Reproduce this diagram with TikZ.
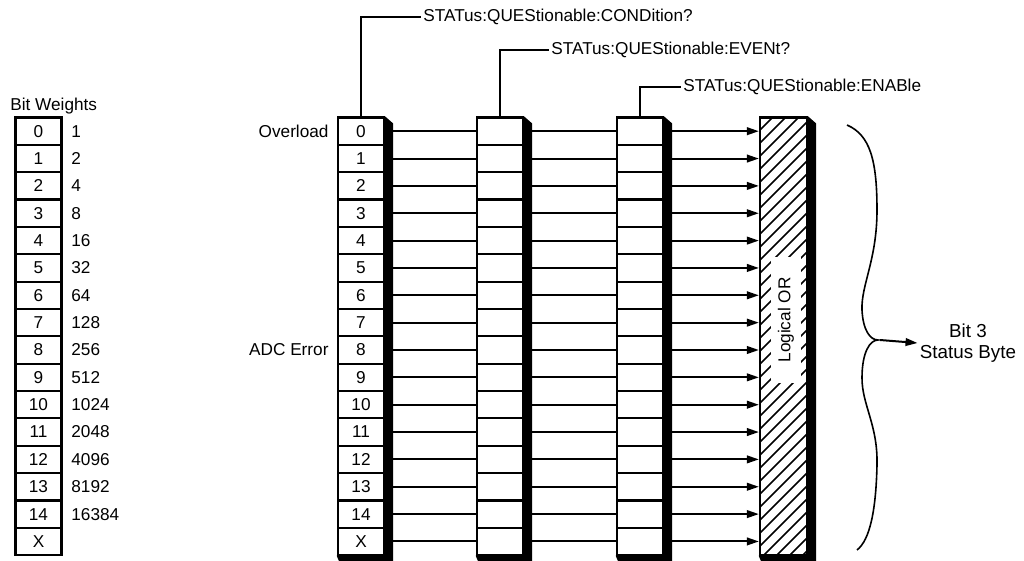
\documentclass[tikz,border=0pt]{standalone}
\usepackage{fontspec}
\setmainfont{Liberation Sans}
\usetikzlibrary{arrows.meta, positioning, backgrounds}

\begin{document}
\begin{tikzpicture}[
    x=0.5pt, y=-0.5pt,
    font=\fontsize{8.6}{10}\selectfont,
    cell/.style={rectangle, draw=black, line width=1.1pt, fill=white, minimum width=23pt, minimum height=13.675pt, inner sep=0pt},
    link/.style={line width=1pt},
    arrow/.style={line width=1pt, -{Triangle[length=6pt, width=3.8pt]}},
    lbl/.style={anchor=west, inner sep=1pt}
]
    \useasboundingbox (0,0) rectangle (1024,561);

    % Bit weights column
    \node[anchor=west, inner sep=0pt] (bwtitle) at (10,106) {Bit Weights};
    \foreach \b/\w [count=\r from 0] in {0/1,1/2,2/4,3/8,4/16,5/32,6/64,7/128,8/256,9/512,10/1024,11/2048,12/4096,13/8192,14/16384,X/} {
        \node[cell] (bw\r) at (38.5,{131.2+27.35*\r}) {\b};
        \node[anchor=west, inner sep=0pt] (wt\r) at (71,{131.2+27.35*\r}) {\w};
    }

    % Registers
    \foreach \b [count=\r from 0] in {0,1,2,3,4,5,6,7,8,9,10,11,12,13,14,X} {
        \node[cell] (cond\r) at (361,{131.2+27.35*\r}) {\b};
        \node[cell] (event\r) at (500,{131.2+27.35*\r}) {};
        \node[cell] (enable\r) at (640,{131.2+27.35*\r}) {};
    }

    % Logical OR
    \node[draw, fill=white, line width=1.1pt, minimum width=23.5pt, minimum height=218.8pt, inner sep=0pt] (lor) at (783.5,{117.5+8*27.35}) {};
    \begin{scope}
        \clip (lor.south west) rectangle (lor.north east);
        \foreach \k in {-2,...,38}
            \draw[line width=0.8pt] (760,{117+13*\k}) -- ++(50,-50);
    \end{scope}
    \node[fill=white, rotate=90, inner xsep=10pt, inner ysep=3.5pt] (ortext) at (786,320) {Logical OR};

    % Shadows
    \begin{scope}[on background layer]
        \foreach \reg in {cond, event, enable}
            \fill (\reg0.north east) -- ([shift={(8,7)}]\reg0.north east) -- ([shift={(8,7)}]\reg15.south east) -- ([shift={(3,7)}]\reg15.south west) -- (\reg15.south west) -- cycle;
        \fill (lor.north east) -- ([shift={(8,7)}]lor.north east) -- ([shift={(8,7)}]lor.south east) -- ([shift={(3,7)}]lor.south west) -- (lor.south west) -- cycle;
    \end{scope}

    % Labels
    \node[lbl] (condq) at (421,17) {STATus:QUEStionable:CONDition?};
    \node[lbl] (eventq) at (549,50) {STATus:QUEStionable:EVENt?};
    \node[lbl] (enableq) at (681,87) {STATus:QUEStionable:ENABle};
    \node[left=4pt of cond0, inner sep=0pt] (overload) {Overload};
    \node[left=4pt of cond8, inner sep=0pt] (adc) {ADC Error};

    \draw[link] (cond0.north) |- (condq.west);
    \draw[link] (event0.north) |- (eventq.west);
    \draw[link] (enable0.north) |- (enableq.west);

    % Arrows
    \foreach \r in {0,...,15} {
        \draw[link] ([xshift=4pt]cond\r.east) -- (event\r.west);
        \draw[link] ([xshift=4pt]event\r.east) -- (enable\r.west);
        \draw[arrow] ([xshift=4pt]enable\r.east) -- (enable\r.east -| lor.west);
    }

    % Brace
    \draw[line width=0.8pt] (847,125) .. controls (870,135) and (877,160) .. (877,210)
        .. controls (877,260) and (861,285) .. (862,310)
        .. controls (863,330) and (870,340) .. (878,340)
        .. controls (870,340) and (862,352) .. (862,378)
        .. controls (862,405) and (878,425) .. (877,465)
        .. controls (876,510) and (870,540) .. (857,550);
    \coordinate (tip) at (880,340);
    \node[align=center, font=\fontsize{9.4}{10.5}\selectfont, inner sep=1pt] (status) at (968,343) {Bit 3\\Status Byte};
    \draw[arrow] (tip) -- (status.west);
\end{tikzpicture}
\end{document}
